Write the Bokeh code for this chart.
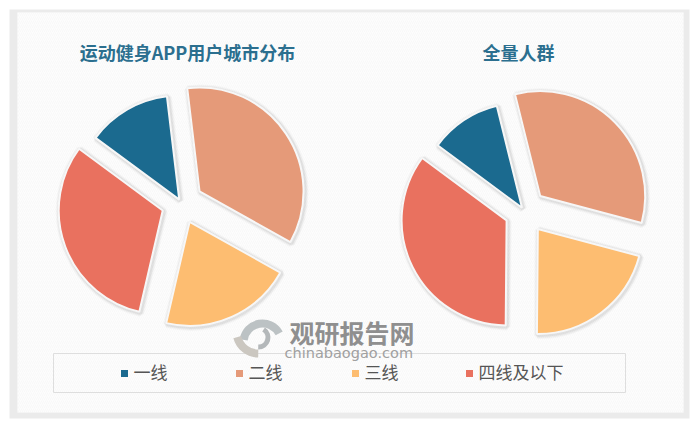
import numpy as np
from bokeh.core.properties import value
from bokeh.embed import file_html
from bokeh.models import Range1d
from bokeh.plotting import figure
from bokeh.resources import INLINE

categories = ["一线", "二线", "三线", "四线及以下"]
colors = ["#1b6a8f", "#e59a79", "#fdbd71", "#e9715f"]

left_title = "运动健身APP用户城市分布"
left_values = [13, 35, 20.5, 31.5]
right_title = "全量人群"
right_values = [11, 33, 21, 35]

W, H = 692, 419
CJK = "Noto Sans CJK SC"


def Y(y):
    # y measured from the top of the picture
    return H - y


def draw_pie(p, vals, cx, cy, r, start_deg, explode):
    # clockwise from the start angle, like the original chart
    vals = np.array(vals, dtype=float)
    edges = np.concatenate([[0], np.cumsum(vals)]) / vals.sum() * 360 + start_deg
    for i in range(len(vals)):
        a0, a1 = edges[i], edges[i + 1]
        mid = np.radians((a0 + a1) / 2)
        x = cx + explode[i] * np.sin(mid)
        y = Y(cy - explode[i] * np.cos(mid))
        sa, ea = np.radians(90 - a1), np.radians(90 - a0)
        # soft shadow
        for lw, alpha in [(8, 0.04), (6, 0.06), (4, 0.09)]:
            p.wedge(x=[x + 1], y=[y - 1], radius=r, start_angle=sa, end_angle=ea,
                    fill_color=None, line_color="#666666", line_alpha=alpha, line_width=lw)
        p.wedge(x=[x], y=[y], radius=r, start_angle=sa, end_angle=ea,
                fill_color=colors[i], line_color="#f7f7f7", line_width=2)


p = figure(width=W, height=H, output_backend="svg", toolbar_location=None, tools="",
           x_range=Range1d(0, W), y_range=Range1d(0, H), min_border=0, outline_line_color=None,
           background_fill_color="white", border_fill_color="white")
p.axis.visible = False
p.grid.visible = False

# card with grey shadow
p.quad(left=9, right=689, bottom=Y(418), top=Y(9), fill_color="#ebebeb", line_color=None)
p.quad(left=17, right=683, bottom=Y(412), top=Y(12), fill_color="#fdfdfd", line_color=None,
       hatch_pattern="right_diagonal_line", hatch_color="#f8f8f8", hatch_scale=4, hatch_weight=1)

draw_pie(p, left_values, 181, 203, 104, -53.6, [4.5, 21.7, 20, 20])
draw_pie(p, right_values, 524, 211, 105, -53.5, [4.5, 22, 22, 20])

p.text(x=[187], y=[Y(51)], text=[left_title], text_font=value(CJK), text_font_style="bold",
       text_font_size="18px", text_color="#2b6f8f", text_align="center", text_baseline="middle")
p.text(x=[518], y=[Y(51)], text=[right_title], text_font=value(CJK), text_font_style="bold",
       text_font_size="18px", text_color="#2b6f8f", text_align="center", text_baseline="middle")

# legend box
p.quad(left=53, right=625, bottom=Y(392), top=Y(353), fill_color=None,
       line_color="#dedede", line_width=1)
legend_x = [124, 239, 355, 469]
for lx, cat, col in zip(legend_x, categories, colors):
    p.rect(x=[lx], y=[Y(373)], width=7, height=7, fill_color=col, line_color=None)
    p.text(x=[lx + 9], y=[Y(371)], text=[cat], text_font=value(CJK), text_font_size="17px",
           text_color="#555555", text_align="left", text_baseline="middle")

# watermark
p.annular_wedge(x=[262], y=[Y(342)], inner_radius=15, outer_radius=23, start_angle=0.5, end_angle=3.0,
                fill_color="#bcc2c4", line_color=None)
p.annular_wedge(x=[258], y=[Y(337)], inner_radius=7, outer_radius=12, start_angle=-1.6, end_angle=1.0,
                fill_color="#b4b8ba", line_color=None)
p.annular_wedge(x=[258], y=[Y(331)], inner_radius=18, outer_radius=26, start_angle=3.4, end_angle=4.7,
                fill_color="#cbc7c0", line_color=None)
p.text(x=[289], y=[Y(331)], text=["观研报告网"], text_font=value(CJK), text_font_style="bold",
       text_font_size="25px", text_color="#8f8f8f", text_align="left", text_baseline="middle")
p.text(x=[284], y=[Y(352)], text=["chinabaogao.com"], text_font=value("DejaVu Sans"),
       text_font_size="14.5px", text_color="#a0a0a0", text_align="left", text_baseline="middle")

open("out.html", "w").write(file_html(p, INLINE))
